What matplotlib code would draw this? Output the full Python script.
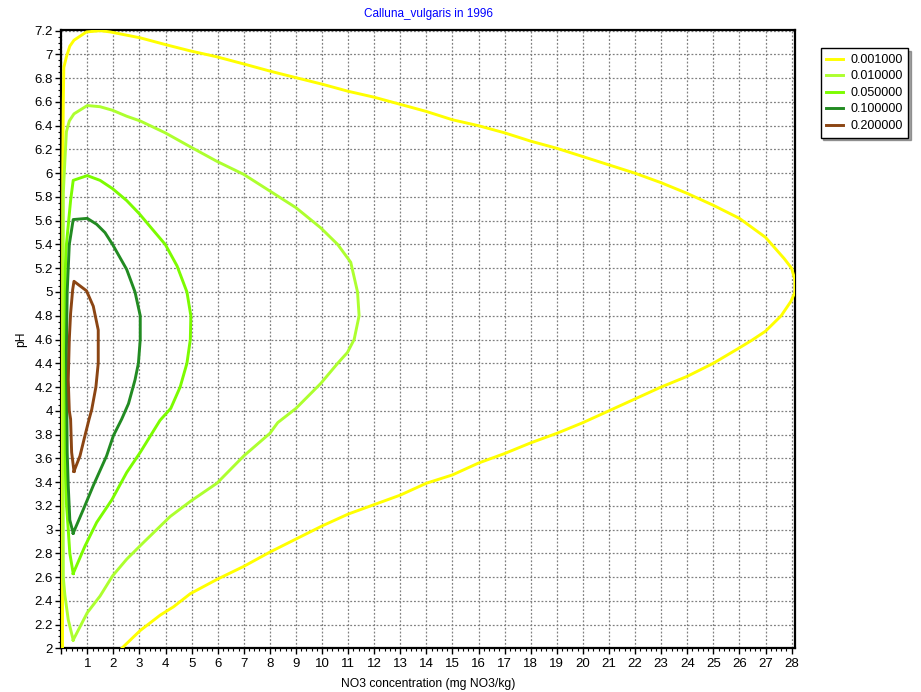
import matplotlib
matplotlib.use("Agg")
import matplotlib.pyplot as plt
from matplotlib.ticker import MultipleLocator, FuncFormatter

plt.rcParams['font.family'] = ['Liberation Sans', 'DejaVu Sans']

levels = ["0.001000", "0.010000", "0.050000", "0.100000", "0.200000"]
colors = ["#ffff00", "#adff2f", "#7cfc00", "#228b22", "#8b4513"]

x_001 = [0.05, 0.05, 0.06, 0.08, 0.1, 0.2, 0.33, 0.49, 0.97, 1.5, 1.87, 3.03, 4.05, 4.95, 5.97,
         7.0, 8.0, 8.9, 10, 11, 12, 13, 14, 15, 16, 17, 18, 19, 20, 21, 22, 23, 24, 25, 26, 27,
         27.72, 28, 28.13, 28.13, 27.97, 27.6, 27, 26.45, 26, 25, 24, 23, 22, 21, 20, 19, 18, 17,
         16, 15, 14, 13, 12, 11, 10, 9, 8, 7, 5.97, 4.95, 4.31, 3.8, 3.03, 2.32]
y_001 = [2.0, 4.0, 6.0, 6.6, 6.89, 6.98, 7.07, 7.12, 7.19, 7.2, 7.19, 7.14, 7.08, 7.03, 6.98,
         6.92, 6.86, 6.81, 6.75, 6.69, 6.64, 6.58, 6.52, 6.45, 6.4, 6.34, 6.27, 6.21, 6.14, 6.07,
         6.0, 5.92, 5.83, 5.73, 5.62, 5.46, 5.28, 5.2, 5.1, 5.0, 4.92, 4.8, 4.67, 4.59, 4.53, 4.4,
         4.29, 4.2, 4.1, 4.0, 3.9, 3.81, 3.73, 3.64, 3.56, 3.46, 3.39, 3.29, 3.21, 3.13, 3.03,
         2.92, 2.81, 2.69, 2.58, 2.46, 2.35, 2.28, 2.15, 2.0]

x_010 = [0.46, 0.27, 0.14, 0.08, 0.07, 0.08, 0.14, 0.2, 0.31, 0.49, 1.0, 1.49, 1.97, 2.51, 3.03,
         3.99, 4.97, 5.97, 7.0, 8.0, 9.0, 9.95, 10.6, 11.1, 11.36, 11.42, 11.23, 10.97, 10.6,
         9.95, 9.0, 8.3, 8.0, 7.0, 5.97, 4.97, 4.18, 3.15, 2.51, 1.97, 1.49, 1.0, 0.46]
y_010 = [2.07, 2.24, 2.45, 2.6, 4.0, 5.83, 6.1, 6.35, 6.44, 6.5, 6.57, 6.56, 6.53, 6.48, 6.44,
         6.34, 6.22, 6.1, 5.99, 5.85, 5.71, 5.54, 5.4, 5.25, 5.0, 4.8, 4.6, 4.49, 4.4, 4.23,
         4.02, 3.9, 3.81, 3.62, 3.39, 3.24, 3.11, 2.89, 2.75, 2.61, 2.44, 2.3, 2.07]

x_050 = [0.46, 0.33, 0.27, 0.2, 0.16, 0.14, 0.16, 0.2, 0.36, 0.46, 1.0, 1.49, 1.97, 2.51, 2.99,
         3.45, 3.99, 4.44, 4.82, 4.97, 4.95, 4.82, 4.56, 4.2, 3.79, 3.03, 2.51, 1.94, 1.36,
         0.91, 0.46]
y_050 = [2.63, 2.8, 3.0, 3.22, 3.5, 4.5, 5.2, 5.4, 5.77, 5.94, 5.98, 5.94, 5.87, 5.77, 5.66,
         5.54, 5.4, 5.22, 5.0, 4.8, 4.6, 4.4, 4.2, 4.02, 3.92, 3.65, 3.48, 3.25, 3.06, 2.86, 2.63]

x_100 = [0.46, 0.33, 0.27, 0.23, 0.2, 0.23, 0.31, 0.46, 1.0, 1.36, 1.68, 1.97, 2.51, 2.83, 3.03,
         3.03, 2.96, 2.83, 2.58, 2.32, 2.0, 1.74, 1.23, 0.85, 0.46]
y_100 = [2.97, 3.08, 3.37, 3.65, 4.5, 5.0, 5.4, 5.61, 5.62, 5.57, 5.5, 5.4, 5.19, 5.0, 4.8,
         4.6, 4.4, 4.26, 4.06, 3.93, 3.79, 3.62, 3.37, 3.17, 2.97]

x_200 = [0.49, 0.4, 0.36, 0.31, 0.27, 0.31, 0.36, 0.44, 0.49, 0.97, 1.23, 1.42, 1.42, 1.33,
         1.17, 1.07, 0.91, 0.72, 0.49]
y_200 = [3.49, 3.65, 3.93, 4.0, 4.26, 4.6, 4.82, 5.02, 5.09, 5.01, 4.88, 4.68, 4.4, 4.2,
         4.01, 3.93, 3.79, 3.62, 3.49]

series = [(x_001, y_001), (x_010, y_010), (x_050, y_050), (x_100, y_100), (x_200, y_200)]

fig = plt.figure(figsize=(9.21, 6.92), dpi=100)
ax = fig.add_axes([61.2 / 921, 1 - 648.3 / 692, (795 - 61.2) / 921, (648.3 - 30) / 692])

handles = []
for (xs, ys), c, lab in zip(series, colors, levels):
    h, = ax.plot(xs, ys, color=c, lw=2.1, label=lab, solid_joinstyle='round', zorder=3)
    handles.append(h)

ax.set_xlim(0, 28.13)
ax.set_ylim(2, 7.206)
ax.xaxis.set_major_locator(MultipleLocator(1))
ax.xaxis.set_minor_locator(MultipleLocator(0.2))
ax.yaxis.set_major_locator(MultipleLocator(0.2))
ax.yaxis.set_minor_locator(MultipleLocator(0.05))
ax.xaxis.set_major_formatter(FuncFormatter(lambda v, p: "" if abs(v) < 1e-9 else "%g" % round(v, 2)))
ax.yaxis.set_major_formatter(FuncFormatter(lambda v, p: "%g" % round(v, 2)))
ax.tick_params(which='major', direction='out', length=4, width=1, labelsize=9.5, colors='black')
ax.tick_params(which='minor', direction='out', length=2.5, width=0.8)
ax.tick_params(axis='y', which='major', pad=2)
ax.tick_params(axis='x', which='major', pad=3)
ax.grid(True, which='major', color='#808080', linestyle=(0, (1.5, 1.5)), linewidth=0.9, zorder=0)
for s in ax.spines.values():
    s.set_linewidth(1.6)
    s.set_color('black')

ax.set_xlabel("NO3 concentration (mg NO3/kg)", fontsize=8.7, labelpad=6)
ax.set_ylabel("pH", fontsize=8.7, labelpad=5)
ax.set_title("Calluna_vulgaris in 1996", fontsize=8.5, color='#0000ff', pad=9)

leg = fig.legend(handles=handles, loc='upper left', bbox_to_anchor=(820.7 / 921, 1 - 48.3 / 692),
                 fontsize=9, frameon=True, fancybox=False, shadow=True, edgecolor='black',
                 framealpha=1, handlelength=1.3, handletextpad=0.6, borderpad=0.45,
                 labelspacing=0.36, borderaxespad=0)
leg.get_frame().set_linewidth(1.0)

fig.savefig("out.png", dpi=100)
